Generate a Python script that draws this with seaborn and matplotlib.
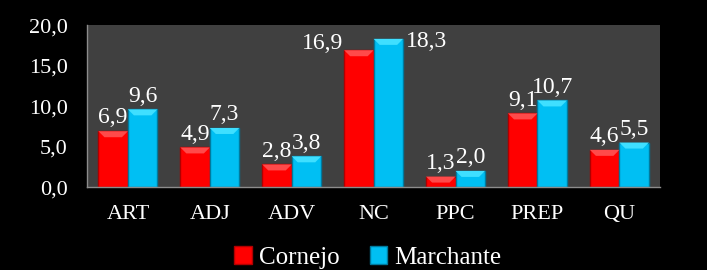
import matplotlib
matplotlib.use("Agg")
import matplotlib.pyplot as plt
import seaborn as sns
import pandas as pd
from matplotlib.ticker import FuncFormatter
from matplotlib.patches import Polygon

categories = ["ART", "ADJ", "ADV", "NC", "PPC", "PREP", "QU"]
cornejo = [6.9, 4.9, 2.8, 16.9, 1.3, 9.1, 4.6]
marchante = [9.6, 7.3, 3.8, 18.3, 2.0, 10.7, 5.5]
series = ["Cornejo", "Marchante"]
yticks = [0, 5, 10, 15, 20]

df = pd.DataFrame({
    "cat": categories * 2,
    "val": cornejo + marchante,
    "serie": [series[0]] * len(categories) + [series[1]] * len(categories),
})

sns.set_theme(style="dark")
plt.rcParams["font.family"] = ["Liberation Serif", "DejaVu Serif"]

fig = plt.figure(figsize=(7.07, 2.70), dpi=100, facecolor="black")
ax = fig.add_axes([0.123, 0.307, 0.811, 0.600])
ax.set_facecolor("#404040")

palette = {"Cornejo": "#FF0000", "Marchante": "#00BFF3"}
edges = {"Cornejo": "#B00000", "Marchante": "#007A9E"}
tops = {"Cornejo": "#FF4A4A", "Marchante": "#3FDFFF"}
sns.barplot(data=df, x="cat", y="val", hue="serie", order=categories,
            hue_order=series, palette=palette, width=0.72, gap=0,
            saturation=1, ax=ax, legend=True)

ax.set_ylim(0, 20)
fig.canvas.draw()
inv = ax.transData.inverted()
fmt = lambda v: f"{v:.1f}".replace(".", ",")
side_cat = categories.index("NC")
for si, (cont, s) in enumerate(zip(ax.containers, series)):
    for b in cont:
        b.set_edgecolor(edges[s])
        b.set_linewidth(1.0)
        x0, y0 = b.get_x(), b.get_y()
        w, h = b.get_width(), b.get_height()
        (px0, py0) = ax.transData.transform((x0, y0 + h))
        (px1, _) = ax.transData.transform((x0 + w, y0 + h))
        inset = min(6, (px1 - px0) / 2)
        pts = [(px0, py0), (px1, py0), (px1 - inset, py0 - inset), (px0 + inset, py0 - inset)]
        pts = [tuple(inv.transform(p)) for p in pts]
        ax.add_patch(Polygon(pts, closed=True, facecolor=tops[s], edgecolor="none",
                             zorder=b.get_zorder() + 0.1))
    labels = [fmt(v) if i != side_cat else "" for i, v in enumerate(cont.datavalues)]
    ax.bar_label(cont, labels=labels, color="white", fontsize=17, padding=2)
    b = cont[side_cat]
    v = cont.datavalues[side_cat]
    if si == 0:
        ax.annotate(fmt(v), (b.get_x(), v), xytext=(-1, 5), textcoords="offset points",
                    ha="right", va="center", color="white", fontsize=17)
    else:
        ax.annotate(fmt(v), (b.get_x() + b.get_width(), v), xytext=(2, -2),
                    textcoords="offset points", ha="left", va="center",
                    color="white", fontsize=17)

ax.set_yticks(yticks)
ax.yaxis.set_major_formatter(FuncFormatter(lambda v, p: fmt(v)))
ax.set_xlabel("")
ax.set_ylabel("")
ax.tick_params(axis="both", colors="white", labelsize=16, length=0)
ax.tick_params(axis="y", pad=14)
ax.tick_params(axis="x", pad=13)
for lab in ax.get_xticklabels() + ax.get_yticklabels():
    lab.set_color("white")
ax.grid(False)
for side in ["top", "right"]:
    ax.spines[side].set_visible(False)
for side in ["left", "bottom"]:
    ax.spines[side].set_visible(True)
    ax.spines[side].set_color("#8C8C8C")
    ax.spines[side].set_linewidth(1)

leg = ax.legend(loc="upper center", bbox_to_anchor=(0.49, -0.365), ncol=2,
                frameon=False, fontsize=18, handlelength=0.7, handleheight=0.7,
                handletextpad=0.3, columnspacing=1.2, borderaxespad=0, borderpad=0)
for t in leg.get_texts():
    t.set_color("white")
for h, s in zip(leg.legend_handles, series):
    h.set_edgecolor(edges[s])

fig.savefig("out.png", dpi=100, facecolor="black")
